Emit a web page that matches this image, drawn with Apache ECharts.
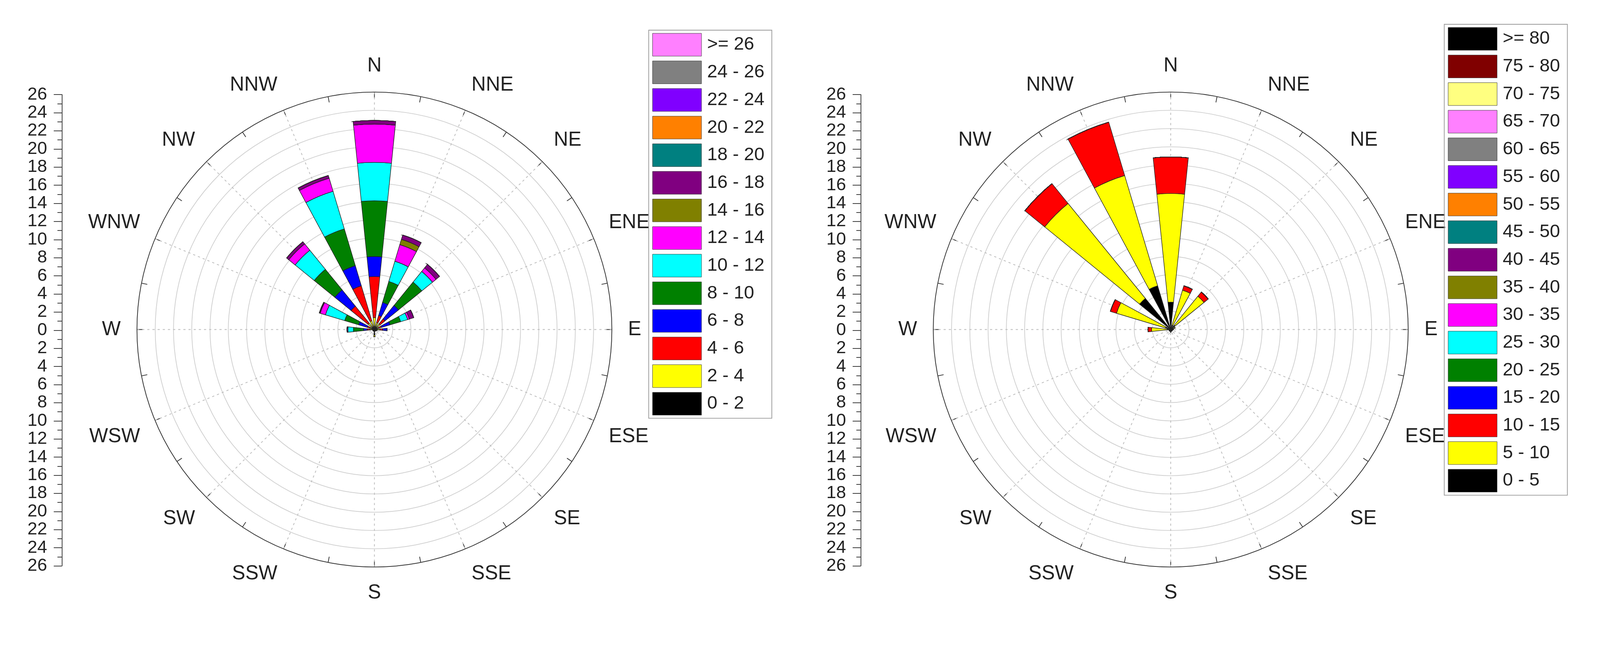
<!DOCTYPE html>
<html>
<head>
<meta charset="utf-8">
<script src="https://cdn.jsdelivr.net/npm/echarts@6/dist/echarts.min.js"></script>
<style>html,body{margin:0;padding:0;background:#fff;overflow:hidden}#main{width:100vw;height:100vh}</style>
</head>
<body>
<div id="main"></div>
<script>
// directions, clockwise from N
var dirs = ['N', 'NNE', 'NE', 'ENE', 'E', 'ESE', 'SE', 'SSE', 'S', 'SSW', 'SW', 'WSW', 'W', 'WNW', 'NW', 'NNW'];

// left rose: speed bins and frequencies (%) per direction
var binsL = ['0 - 2', '2 - 4', '4 - 6', '6 - 8', '8 - 10', '10 - 12', '12 - 14', '14 - 16', '16 - 18', '18 - 20', '20 - 22', '22 - 24', '24 - 26', '>= 26'];
var colorsL = ['#000000', '#ffff00', '#ff0000', '#0000ff', '#008000', '#00ffff', '#ff00ff', '#808000', '#800080', '#008080', '#ff8000', '#8000ff', '#808080', '#ff80ff'];
var b0_2   = [0.3, 0.3, 0.3, 0.2, 0.3, 0.2, 0.2, 0.2, 0.6, 0.2, 0.2, 0.2, 0.2, 0.2, 0.3, 0.3];
var b2_4   = [1.0, 0.5, 0.5, 0.3, 0.3, 0.1, 0, 0, 0.2, 0, 0, 0, 0.3, 0.3, 0.6, 0.7];
var b4_6   = [4.5, 0.8, 0.7, 0.3, 0.3, 0, 0, 0, 0, 0, 0, 0, 0.3, 0.3, 2.4, 4.0];
var b6_8   = [2.2, 1.5, 1.9, 1.0, 0.5, 0, 0, 0, 0, 0, 0, 0, 0.4, 1.0, 2.3, 2.3];
var b8_10  = [6.1, 2.4, 3.3, 1.2, 0, 0, 0, 0, 0, 0, 0, 0, 1.1, 1.6, 2.9, 4.2];
var b10_12 = [4.2, 2.3, 1.5, 0.8, 0, 0, 0, 0, 0, 0, 0, 0, 0.6, 2.2, 2.7, 4.3];
var b12_14 = [4.2, 1.9, 0.5, 0.2, 0, 0, 0, 0, 0, 0, 0, 0, 0.1, 0.6, 0.9, 1.5];
var b14_16 = [0, 0.6, 0, 0, 0, 0, 0, 0, 0, 0, 0, 0, 0, 0, 0, 0];
var b16_18 = [0.4, 0.5, 0.5, 0.5, 0, 0, 0, 0, 0, 0, 0, 0, 0, 0.1, 0.3, 0.3];
var zeros  = [0, 0, 0, 0, 0, 0, 0, 0, 0, 0, 0, 0, 0, 0, 0, 0];
var valuesL = [b0_2, b2_4, b4_6, b6_8, b8_10, b10_12, b12_14, b14_16, b16_18, zeros, zeros, zeros, zeros, zeros];

// right rose
var binsR = ['0 - 5', '5 - 10', '10 - 15', '15 - 20', '20 - 25', '25 - 30', '30 - 35', '35 - 40', '40 - 45', '45 - 50', '50 - 55', '55 - 60', '60 - 65', '65 - 70', '70 - 75', '75 - 80', '>= 80'];
var colorsR = ['#000000', '#ffff00', '#ff0000', '#0000ff', '#008000', '#00ffff', '#ff00ff', '#808000', '#800080', '#008080', '#ff8000', '#8000ff', '#808080', '#ff80ff', '#ffff80', '#800000', '#000000'];
var r0_5   = [3.0, 0.5, 0.6, 0.2, 0.3, 0.2, 0.2, 0.2, 0.3, 0.2, 0.2, 0.2, 0.4, 0.6, 4.4, 5.0];
var r5_10  = [11.9, 4.0, 4.1, 0.3, 0, 0, 0, 0, 0, 0, 0, 0, 1.7, 5.6, 13.4, 12.6];
var r10_15 = [4.0, 0.5, 0.6, 0, 0, 0, 0, 0, 0, 0, 0, 0, 0.4, 0.7, 2.8, 6.1];
var valuesR = [r0_5, r5_10, r10_15];
for (var k = 3; k < binsR.length; k++) valuesR.push(zeros);

var ticksY = 26; // vertical scale reaches +-26

var font = 'Liberation Sans';
var el = document.getElementById('main');
var s = el.clientWidth / 4346; // layout below is in 4346-wide reference pixels
function p(v) { return v * s; }
var chart = echarts.init(el);

function polarPair(cx) {
  return [
    { center: [p(cx), p(895)], radius: p(645) },
    { center: [p(cx), p(895)], radius: p(645) }
  ];
}

function barAngle(idx) {
  return {
    polarIndex: idx, type: 'category', data: dirs, startAngle: 101.25,
    axisLine: { show: false }, axisTick: { show: false }, axisLabel: { show: false }, splitLine: { show: false }
  };
}
function decoAngle(idx) {
  return {
    polarIndex: idx, type: 'value', min: 0, max: 360, interval: 22.5, startAngle: 90,
    axisLine: { lineStyle: { color: '#333', width: p(2) } },
    axisTick: { inside: true, length: p(16), lineStyle: { color: '#333', width: p(2) } },
    minorTick: { show: true, splitNumber: 2, length: p(16), lineStyle: { color: '#333', width: p(2) } },
    axisLabel: {
      margin: p(44), fontSize: p(54), color: '#222', fontFamily: font,
      formatter: function (v) { return v >= 360 ? '' : dirs[Math.round(v / 22.5)]; }
    },
    splitLine: { show: true, lineStyle: { color: '#bbb', type: [p(6), p(8)], width: p(2) } }
  };
}
function barRadius(idx) {
  return { polarIndex: idx, type: 'value', min: 0, max: ticksY, axisLine: { show: false }, axisTick: { show: false }, axisLabel: { show: false }, splitLine: { show: false } };
}
function decoRadius(idx) {
  return {
    polarIndex: idx, type: 'value', min: 0, max: ticksY, interval: 2,
    axisLine: { show: false }, axisTick: { show: false }, axisLabel: { show: false },
    splitLine: { show: true, lineStyle: { color: '#d0d0d0', width: p(2) } }
  };
}
function yAxisFor(gi) {
  return {
    gridIndex: gi, type: 'value', min: -ticksY, max: ticksY, interval: 2,
    axisLine: { show: true, lineStyle: { color: '#333', width: p(2) } },
    axisTick: { show: true, length: p(22), lineStyle: { color: '#333', width: p(2) } },
    minorTick: { show: true, splitNumber: 2, length: p(12), lineStyle: { color: '#333', width: p(2) } },
    axisLabel: {
      margin: p(40), fontSize: p(48), lineHeight: p(40), color: '#222', fontFamily: font,
      showMinLabel: true, showMaxLabel: true, hideOverlap: false,
      formatter: function (v) { return Math.abs(v); }
    },
    splitLine: { show: false }
  };
}

var series = [];
binsL.forEach(function (name, i) {
  series.push({
    name: name, type: 'bar', coordinateSystem: 'polar', polarIndex: 0, stack: 'L',
    barCategoryGap: '48%', data: valuesL[i],
    itemStyle: { color: colorsL[i], borderColor: '#222', borderWidth: p(1.5) }
  });
});
binsR.forEach(function (name, i) {
  series.push({
    name: name, type: 'bar', coordinateSystem: 'polar', polarIndex: 2, stack: 'R',
    barCategoryGap: '48%', data: valuesR[i],
    itemStyle: { color: colorsR[i], borderColor: '#222', borderWidth: p(1.5) }
  });
});

function legendAt(left, top, data) {
  return {
    left: p(left), top: p(top), orient: 'vertical', data: data, icon: 'rect',
    itemWidth: p(133), itemHeight: p(62), itemGap: p(12),
    borderColor: '#999', borderWidth: p(2), padding: [p(8), p(20), p(8), p(10)],
    textStyle: { fontSize: p(50), color: '#222', fontFamily: font, padding: [0, 0, 0, p(10)] },
    itemStyle: { borderColor: '#333', borderWidth: p(1) },
    selectedMode: false
  };
}

var option = {
  backgroundColor: '#ffffff',
  animation: false,
  polar: polarPair(1017).concat(polarPair(3180)),
  angleAxis: [barAngle(0), decoAngle(1), barAngle(2), decoAngle(3)],
  radiusAxis: [barRadius(0), decoRadius(1), barRadius(2), decoRadius(3)],
  grid: [
    { left: p(168), top: p(257), width: 1, height: p(1280) },
    { left: p(2338), top: p(257), width: 1, height: p(1280) }
  ],
  xAxis: [
    { gridIndex: 0, type: 'value', show: false },
    { gridIndex: 1, type: 'value', show: false }
  ],
  yAxis: [yAxisFor(0), yAxisFor(1)],
  legend: [
    legendAt(1762, 82, binsL.slice().reverse()),
    legendAt(3923, 66, binsR.slice().reverse())
  ],
  series: series
};
chart.setOption(option);
</script>
</body>
</html>
